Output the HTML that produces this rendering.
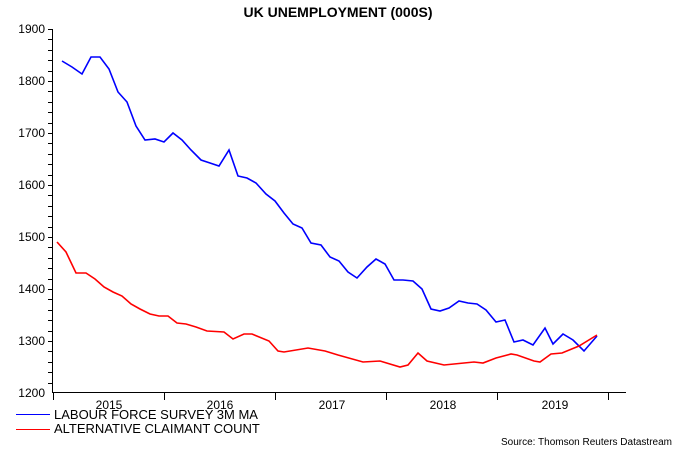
<!DOCTYPE html>
<html><head><style>body{margin:0;background:#fff}svg{display:block;font-family:"Liberation Sans",Arial,sans-serif}</style></head>
<body>
<svg width="675" height="450" viewBox="0 0 675 450">
<text x="338" y="17" text-anchor="middle" font-size="14" font-weight="bold">UK UNEMPLOYMENT (000S)</text>
<g stroke="#000" stroke-width="1">
<line x1="52.5" y1="29" x2="52.5" y2="393"/>
<line x1="52" y1="392.5" x2="626" y2="392.5"/>
<g id="yt"></g>
<line x1="53.5" y1="393" x2="53.5" y2="400"/>
<line x1="164.5" y1="393" x2="164.5" y2="400"/>
<line x1="275.5" y1="393" x2="275.5" y2="400"/>
<line x1="386.5" y1="393" x2="386.5" y2="400"/>
<line x1="497.5" y1="393" x2="497.5" y2="400"/>
<line x1="608.5" y1="393" x2="608.5" y2="400"/>
<path d="M48 29.5h4M48 39.5h4M48 50.5h4M48 60.5h4M48 71.5h4M48 81.5h4M48 91.5h4M48 102.5h4M48 112.5h4M48 123.5h4M48 133.5h4M48 143.5h4M48 154.5h4M48 164.5h4M48 175.5h4M48 185.5h4M48 195.5h4M48 206.5h4M48 216.5h4M48 227.5h4M48 237.5h4M48 247.5h4M48 258.5h4M48 268.5h4M48 279.5h4M48 289.5h4M48 299.5h4M48 310.5h4M48 320.5h4M48 331.5h4M48 341.5h4M48 351.5h4M48 362.5h4M48 372.5h4M48 383.5h4"/>
</g>
<g font-size="12" text-anchor="end">
<text x="45" y="33">1900</text><text x="45" y="85">1800</text><text x="45" y="137">1700</text><text x="45" y="189">1600</text><text x="45" y="241">1500</text><text x="45" y="293">1400</text><text x="45" y="345">1300</text><text x="45" y="397">1200</text>
</g>
<g font-size="12" text-anchor="middle">
<text x="109" y="409">2015</text><text x="220" y="409">2016</text><text x="332" y="409">2017</text><text x="443" y="409">2018</text><text x="555" y="409">2019</text>
</g>
<polyline fill="none" stroke="#0000ff" stroke-width="1.6" points="62,61 72,67 82,74 91,57 100,57 109,69 118,92 127,102 136,126 145,140 155,139 164,142 173,133 182,140 191,150 201,160 210,163 219,166 229,150 238,176 247,178 256,183 266,194 275,201 284,213 293,224 302,228 311,243 321,245 330,257 339,261 348,272 357,278 367,267 376,259 385,264 394,280 403,280 413,281 422,289 431,309 440,311 449,308 459,301 468,303 477,304 486,310 496,322 505,320 514,342 523,340 533,345 545,328 553,344 563,334 573,340 584,351 597,336"/>
<polyline fill="none" stroke="#ff0000" stroke-width="1.6" points="57,242 66,252 76,273 86,273 95,279 104,287 113,292 122,296 131,304 140,309 150,314 159,316 168,316 177,323 186,324 196,327 207,331 224,332 233,339 244,334 252,334 269,341 278,351 284,352 308,348 325,351 338,355 363,362 380,361 400,367 408,365 418,353 427,361 444,365 464,363 474,362 483,363 496,358 511,354 517,355 534,361 540,362 551,354 562,353 579,346 597,335"/>
<line x1="16" y1="414.5" x2="50" y2="414.5" stroke="#0000ff" stroke-width="1"/>
<line x1="16" y1="429.5" x2="50" y2="429.5" stroke="#ff0000" stroke-width="1"/>
<g font-size="13"><text x="54" y="419">LABOUR FORCE SURVEY 3M MA</text><text x="54" y="433">ALTERNATIVE CLAIMANT COUNT</text></g>
<text x="672" y="445" font-size="10" text-anchor="end">Source: Thomson Reuters Datastream</text>
</svg>
</body></html>
